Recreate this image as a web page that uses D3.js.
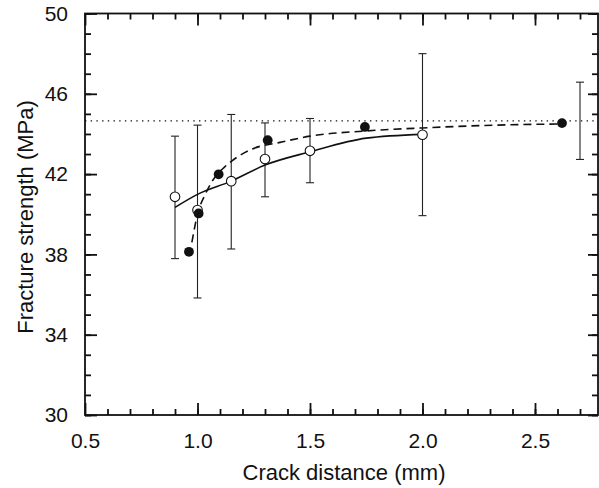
<!DOCTYPE html>
<html>
<head>
<meta charset="utf-8">
<script src="https://cdn.jsdelivr.net/npm/d3@7"></script>
<style>
  body { margin: 0; background: #fff; }
  svg { display: block; font-family: "Liberation Sans", Arial, sans-serif; }
</style>
</head>
<body>
<svg id="chart"></svg>
<script>
// open circles (solid fit) with error bars
var openX  = [0.9, 1.0, 1.15, 1.3, 1.5, 2.0]
var openY  = [40.87, 40.21, 41.65, 42.75, 43.16, 43.96]
var openHi = [43.89, 44.44, 44.97, 44.55, 44.77, 48.0]
var openLo = [37.79, 35.83, 38.27, 40.87, 41.57, 39.93]

// lone error bar at the right (no marker)
var refBarX = [2.7]
var refBarHi = [46.58]
var refBarLo = [42.73]

// filled circles (dashed fit)
var filledX = [0.962, 1.005, 1.094, 1.312, 1.744, 2.62]
var filledY = [38.13, 40.04, 41.99, 43.69, 44.35, 44.54]

// fitted curves
var solidFitX = [0.9, 1.0, 1.15, 1.3, 1.5, 1.75, 2.0]
var solidFitY = [40.34, 40.99, 41.65, 42.45, 43.11, 43.79, 43.98]
var dashFitX = [0.975, 1.0, 1.035, 1.06, 1.12, 1.152, 1.241, 1.367, 1.5, 1.75, 2.0, 2.27, 2.62]
var dashFitY = [38.6, 40.0, 41.0, 41.55, 42.35, 42.65, 43.24, 43.58, 43.89, 44.15, 44.3, 44.42, 44.5]

// horizontal dotted level
var levelY = 44.65

// ticks
var xMajor = [0.5, 1.0, 1.5, 2.0, 2.5]
var xMinor = d3.range(6, 28).map(d => d / 10)
var yMajor = [30, 34, 38, 42, 46, 50]
var yMinor = d3.range(30, 51)

var W = 599, H = 488
var svg = d3.select("#chart").attr("width", W).attr("height", H)

var x = d3.scaleLinear().domain([0.5, 2.78]).range([85, 598])
var y = d3.scaleLinear().domain([30, 50]).range([415, 13.5])

var ink = "#111"
var axisW = 1.8

//axes: minor + major ticks, pointing inward
function styleAxis(g) {
    g.select(".domain").remove()
    g.selectAll("line").attr("stroke", ink).attr("stroke-width", axisW)
    g.selectAll("text").attr("fill", ink).style("font-size", "21px")
}

svg.append("g").attr("transform", "translate(0,415)")
   .call(d3.axisBottom(x).tickValues(xMinor).tickSize(-6).tickFormat(""))
   .call(styleAxis)
svg.append("g").attr("transform", "translate(0,415)")
   .call(d3.axisBottom(x).tickValues(xMajor).tickSize(-12).tickPadding(18).tickFormat(d3.format(".1f")))
   .call(styleAxis)
svg.append("g").attr("transform", "translate(0,13.5)")
   .call(d3.axisTop(x).tickValues(xMinor).tickSize(-6).tickFormat(""))
   .call(styleAxis)
svg.append("g").attr("transform", "translate(0,13.5)")
   .call(d3.axisTop(x).tickValues(xMajor).tickSize(-12).tickFormat(""))
   .call(styleAxis)

svg.append("g").attr("transform", "translate(85,0)")
   .call(d3.axisLeft(y).tickValues(yMinor).tickSize(-6).tickFormat(""))
   .call(styleAxis)
svg.append("g").attr("transform", "translate(85,0)")
   .call(d3.axisLeft(y).tickValues(yMajor).tickSize(-12).tickPadding(17).tickFormat(d3.format("d")))
   .call(styleAxis)
svg.append("g").attr("transform", "translate(598,0)")
   .call(d3.axisRight(y).tickValues(yMinor).tickSize(-6).tickFormat(""))
   .call(styleAxis)
svg.append("g").attr("transform", "translate(598,0)")
   .call(d3.axisRight(y).tickValues(yMajor).tickSize(-10).tickFormat(""))
   .call(styleAxis)

//frame
svg.append("rect")
   .attr("x", x.range()[0]).attr("y", y.range()[1])
   .attr("width", x.range()[1] - x.range()[0])
   .attr("height", y.range()[0] - y.range()[1])
   .attr("fill", "none").attr("stroke", ink).attr("stroke-width", axisW)

//dotted level line
svg.append("line")
   .attr("x1", x.range()[0]).attr("x2", x.range()[1])
   .attr("y1", y(levelY)).attr("y2", y(levelY))
   .attr("stroke", ink).attr("stroke-width", 1.4)
   .attr("stroke-dasharray", "1.4,4.3")

//error bars
var bars = openX.map((d, i) => ({x: d, hi: openHi[i], lo: openLo[i]}))
    .concat(refBarX.map((d, i) => ({x: d, hi: refBarHi[i], lo: refBarLo[i]})))
var eb = svg.append("g").attr("stroke", "#222").attr("stroke-width", 1.1)
eb.selectAll(".v").data(bars).enter().append("line")
  .attr("x1", d => x(d.x)).attr("x2", d => x(d.x))
  .attr("y1", d => y(d.hi)).attr("y2", d => y(d.lo))
eb.selectAll(".t").data(bars).enter().append("line")
  .attr("x1", d => x(d.x) - 4).attr("x2", d => x(d.x) + 4)
  .attr("y1", d => y(d.hi)).attr("y2", d => y(d.hi))
eb.selectAll(".b").data(bars).enter().append("line")
  .attr("x1", d => x(d.x) - 4).attr("x2", d => x(d.x) + 4)
  .attr("y1", d => y(d.lo)).attr("y2", d => y(d.lo))

//fits
var line = d3.line().x(d => x(d[0])).y(d => y(d[1])).curve(d3.curveMonotoneX)
svg.append("path")
   .datum(solidFitX.map((d, i) => [d, solidFitY[i]]))
   .attr("d", line)
   .attr("fill", "none").attr("stroke", ink).attr("stroke-width", 1.6)
svg.append("path")
   .datum(dashFitX.map((d, i) => [d, dashFitY[i]]))
   .attr("d", line)
   .attr("fill", "none").attr("stroke", ink).attr("stroke-width", 1.6)
   .attr("stroke-dasharray", "8,5")

//markers
svg.append("g").selectAll("circle")
   .data(openX.map((d, i) => [d, openY[i]]))
   .enter().append("circle")
   .attr("cx", d => x(d[0])).attr("cy", d => y(d[1])).attr("r", 4.8)
   .attr("fill", "#fff").attr("stroke", ink).attr("stroke-width", 1.1)
svg.append("g").selectAll("circle")
   .data(filledX.map((d, i) => [d, filledY[i]]))
   .enter().append("circle")
   .attr("cx", d => x(d[0])).attr("cy", d => y(d[1])).attr("r", 4.9)
   .attr("fill", ink)

//axis titles
svg.append("text")
   .attr("x", 344).attr("y", 480)
   .attr("text-anchor", "middle")
   .style("font-size", "22px").attr("fill", ink)
   .text("Crack distance (mm)")
svg.append("text")
   .attr("transform", "translate(33,217) rotate(-90)")
   .attr("text-anchor", "middle")
   .style("font-size", "22px").attr("fill", ink)
   .text("Fracture strength (MPa)")
</script>
</body>
</html>
